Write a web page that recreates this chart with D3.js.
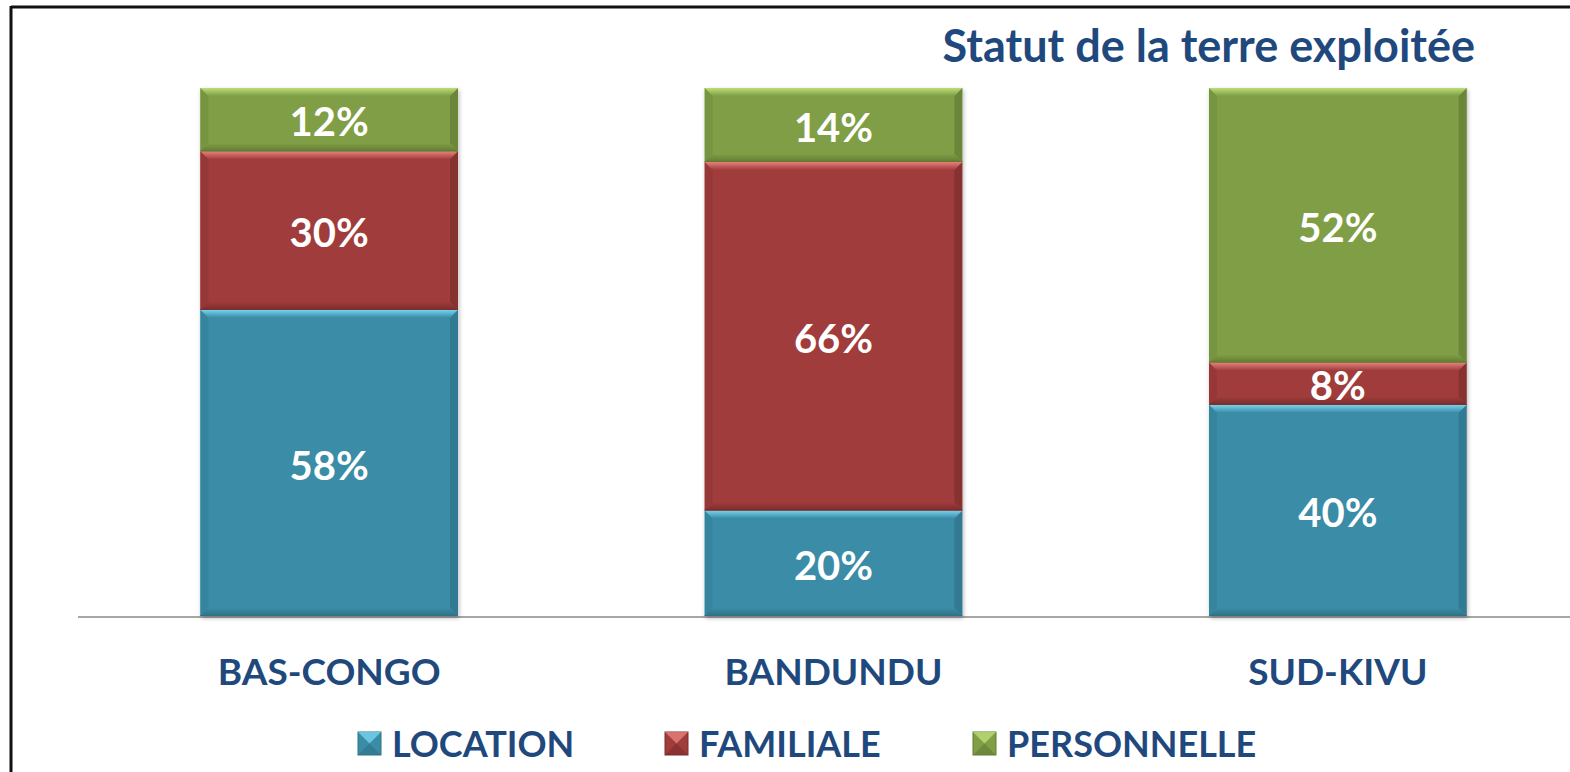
<!DOCTYPE html>
<html>
<head>
<meta charset="utf-8">
<script src="https://cdn.jsdelivr.net/npm/d3@7/dist/d3.min.js"></script>
<style>
body { margin: 0; background: #fff; }
svg { display: block; font-family: Lato, "Open Sans", sans-serif; font-weight: bold; }
</style>
</head>
<body>
<script>
// data
var regions = ["BAS-CONGO", "BANDUNDU", "SUD-KIVU"];
var seriesNames = ["LOCATION", "FAMILIALE", "PERSONNELLE"];
var location_ = [58, 20, 40];
var familiale = [30, 66, 8];
var personnelle = [12, 14, 52];
var titleText = "Statut de la terre exploitée";

var colors = {
  LOCATION:    { base: "#3a8ca7", top: "#79d3ee", bottom: "#2f7287", side: "#33809a" },
  FAMILIALE:   { base: "#a03c3b", top: "#e8807c", bottom: "#7a2d2c", side: "#8f3535" },
  PERSONNELLE: { base: "#7f9e45", top: "#bddc78", bottom: "#627c34", side: "#718e3d" }
};

var W = 1570, H = 772;
var svg = d3.select("body").append("svg")
  .attr("width", W)
  .attr("height", H);

var defs = svg.append("defs");
var f = defs.append("filter").attr("id", "shadow")
  .attr("x", "-10%").attr("y", "-10%").attr("width", "120%").attr("height", "120%");
f.append("feDropShadow").attr("dx", 1).attr("dy", 2).attr("stdDeviation", 2)
  .attr("flood-color", "#000").attr("flood-opacity", 0.3);

seriesNames.forEach(function(s) {
  var g = defs.append("linearGradient").attr("id", "top-" + s)
    .attr("x1", 0).attr("y1", 0).attr("x2", 0).attr("y2", 1);
  g.append("stop").attr("offset", "0%").attr("stop-color", colors[s].top);
  g.append("stop").attr("offset", "100%").attr("stop-color", colors[s].base);
  var g2 = defs.append("linearGradient").attr("id", "bot-" + s)
    .attr("x1", 0).attr("y1", 0).attr("x2", 0).attr("y2", 1);
  g2.append("stop").attr("offset", "0%").attr("stop-color", colors[s].base);
  g2.append("stop").attr("offset", "100%").attr("stop-color", colors[s].bottom);
});

// frame
svg.append("line").attr("x1", 11).attr("x2", W).attr("y1", 7).attr("y2", 7)
  .attr("stroke", "#111").attr("stroke-width", 3);
svg.append("line").attr("x1", 11).attr("x2", 11).attr("y1", 6).attr("y2", H)
  .attr("stroke", "#111").attr("stroke-width", 3);

var x = d3.scaleBand()
  .domain(regions)
  .range([77, 1590])
  .paddingInner(0.489)
  .paddingOuter(0.2445);

var y = d3.scaleLinear()
  .domain([0, 100])
  .range([616, 88]);

var rows = regions.map(function(r, i) {
  return { region: r, LOCATION: location_[i], FAMILIALE: familiale[i], PERSONNELLE: personnelle[i] };
});
var stacked = d3.stack().keys(seriesNames)(rows);

// baseline
svg.append("line")
  .attr("x1", 78).attr("x2", W)
  .attr("y1", y(0) + 1).attr("y2", y(0) + 1)
  .attr("stroke", "#a6a6a6").attr("stroke-width", 2);

var barsG = svg.append("g");
// shadows behind each full bar
barsG.selectAll("rect.sh")
  .data(regions)
  .enter().append("rect")
    .attr("class", "sh")
    .attr("x", function(d) { return x(d); })
    .attr("y", y(100))
    .attr("width", x.bandwidth())
    .attr("height", y(0) - y(100))
    .attr("fill", "#fff")
    .attr("filter", "url(#shadow)");

stacked.forEach(function(layer) {
  var s = layer.key;
  var c = colors[s];
  layer.forEach(function(d) {
    var x0 = x(d.data.region), w = x.bandwidth();
    var y0 = y(d[1]), h = y(d[0]) - y(d[1]);
    var b = Math.min(8, h / 3);
    var seg = barsG.append("g");
    seg.append("rect")
      .attr("x", x0).attr("y", y0).attr("width", w).attr("height", h)
      .attr("fill", c.base);
    // left, right sides
    seg.append("polygon")
      .attr("points", [[x0, y0], [x0 + b, y0 + b], [x0 + b, y0 + h - b], [x0, y0 + h]].join(" "))
      .attr("fill", c.side).attr("opacity", 0.6);
    seg.append("polygon")
      .attr("points", [[x0 + w, y0], [x0 + w - b, y0 + b], [x0 + w - b, y0 + h - b], [x0 + w, y0 + h]].join(" "))
      .attr("fill", c.bottom).attr("opacity", 0.7);
    // top highlight
    seg.append("polygon")
      .attr("points", [[x0, y0], [x0 + w, y0], [x0 + w - b, y0 + b], [x0 + b, y0 + b]].join(" "))
      .attr("fill", "url(#top-" + s + ")");
    // bottom shade
    seg.append("polygon")
      .attr("points", [[x0, y0 + h], [x0 + w, y0 + h], [x0 + w - b, y0 + h - b], [x0 + b, y0 + h - b]].join(" "))
      .attr("fill", "url(#bot-" + s + ")");
    seg.append("line")
      .attr("x1", x0).attr("x2", x0 + w).attr("y1", y0 + h - 0.5).attr("y2", y0 + h - 0.5)
      .attr("stroke", c.bottom).attr("stroke-width", 1);
    // value label
    seg.append("text")
      .attr("x", x0 + w / 2)
      .attr("y", y0 + h / 2)
      .attr("dy", "0.42em")
      .attr("text-anchor", "middle")
      .attr("fill", "#fff")
      .attr("font-size", 40)
      .text((d[1] - d[0]) + "%");
  });
});

// category labels
svg.selectAll("text.cat")
  .data(regions)
  .enter().append("text")
    .attr("class", "cat")
    .attr("x", function(d) { return x(d) + x.bandwidth() / 2; })
    .attr("y", 685)
    .attr("text-anchor", "middle")
    .attr("fill", "#1f497d")
    .attr("font-size", 37)
    .text(function(d) { return d; });

// title
svg.append("text")
  .attr("x", 1475).attr("y", 62)
  .attr("text-anchor", "end")
  .attr("fill", "#1f497d")
  .attr("font-size", 45)
  .text(titleText);

// legend
var legendX = [358, 665, 973];
var leg = svg.selectAll("g.leg")
  .data(seriesNames)
  .enter().append("g")
    .attr("class", "leg")
    .attr("transform", function(d, i) { return "translate(" + legendX[i] + ",732)"; });
leg.append("rect")
  .attr("width", 23).attr("height", 23)
  .attr("fill", function(d) { return colors[d].base; })
  .attr("stroke", function(d) { return colors[d].bottom; })
  .attr("stroke-width", 1);
leg.append("polygon")
  .attr("points", "0,0 23,0 11.5,11.5")
  .attr("fill", function(d) { return colors[d].top; })
  .attr("opacity", 0.8);
leg.append("polygon")
  .attr("points", "0,23 23,23 11.5,11.5")
  .attr("fill", function(d) { return colors[d].bottom; })
  .attr("opacity", 0.6);
leg.append("text")
  .attr("x", 34).attr("y", 25)
  .attr("fill", "#1f497d")
  .attr("font-size", 36)
  .text(function(d) { return d; });
</script>
</body>
</html>
